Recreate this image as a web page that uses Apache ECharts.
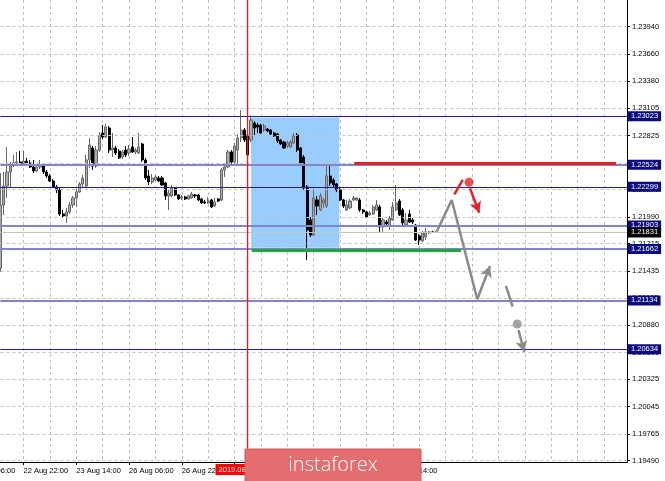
<!DOCTYPE html>
<html><head><meta charset="utf-8">
<script src="https://cdn.jsdelivr.net/npm/echarts@6/dist/echarts.min.js"></script>
<style>html,body{margin:0;padding:0;background:#fff}#c{width:665px;height:481px}</style>
</head><body><div id="c"></div>
<script>
// ---------- DATA ----------
// hourly bars, bar 0 = 22 Aug 2019 06:00 (weekend hours skipped)
const barCount = 200;
const firstVisibleBar = 9;
// [open, close, low, high], one per bar from firstVisibleBar
const candles = [
[1.21466,1.22112,1.21425,1.22440],[1.22112,1.22307,1.22010,1.22451],[1.22307,1.22451,1.22184,1.22707],
[1.22451,1.22522,1.22287,1.22553],[1.22522,1.22543,1.22502,1.22625],[1.22543,1.22553,1.22522,1.22656],
[1.22553,1.22533,1.22512,1.22666],[1.22533,1.22563,1.22512,1.22666],[1.22563,1.22543,1.22522,1.22594],
[1.22543,1.22502,1.22492,1.22574],[1.22502,1.22461,1.22440,1.22574],[1.22461,1.22502,1.22451,1.22522],
[1.22502,1.22522,1.22481,1.22574],[1.22522,1.22451,1.22430,1.22533],[1.22451,1.22410,1.22389,1.22471],
[1.22410,1.22358,1.22348,1.22430],[1.22358,1.22297,1.22287,1.22379],[1.22297,1.22266,1.22235,1.22317],
[1.22266,1.22020,1.22000,1.22297],[1.22020,1.22000,1.21979,1.22061],[1.22000,1.22041,1.21928,1.22082],
[1.22041,1.22112,1.22020,1.22143],[1.22112,1.22184,1.22082,1.22205],[1.22184,1.22246,1.22092,1.22276],
[1.22246,1.22328,1.22235,1.22348],[1.22328,1.22389,1.22287,1.22420],[1.22307,1.22574,1.22287,1.22625],
[1.22574,1.22727,1.22492,1.22799],[1.22697,1.22512,1.22471,1.22717],[1.22512,1.22676,1.22492,1.22717],
[1.22676,1.22830,1.22656,1.22861],[1.22850,1.22809,1.22789,1.22932],[1.22809,1.22912,1.22799,1.22943],
[1.22902,1.22676,1.22645,1.22922],[1.22676,1.22697,1.22604,1.22850],[1.22697,1.22645,1.22625,1.22717],
[1.22666,1.22594,1.22584,1.22686],[1.22604,1.22656,1.22584,1.22676],[1.22676,1.22625,1.22604,1.22717],
[1.22645,1.22686,1.22615,1.22727],[1.22707,1.22656,1.22645,1.22809],[1.22656,1.22676,1.22635,1.22697],
[1.22645,1.22707,1.22635,1.22850],[1.22738,1.22574,1.22553,1.22748],[1.22574,1.22389,1.22369,1.22594],
[1.22410,1.22348,1.22317,1.22471],[1.22348,1.22389,1.22328,1.22430],[1.22369,1.22399,1.22358,1.22420],
[1.22389,1.22358,1.22348,1.22410],[1.22389,1.22317,1.22307,1.22410],[1.22338,1.22205,1.22164,1.22348],
[1.22205,1.22235,1.22061,1.22266],[1.22205,1.22287,1.22194,1.22317],[1.22287,1.22215,1.22205,1.22297],
[1.22215,1.22174,1.22164,1.22225],[1.22184,1.22194,1.22164,1.22215],[1.22194,1.22174,1.22164,1.22205],
[1.22174,1.22205,1.22164,1.22215],[1.22184,1.22225,1.22174,1.22246],[1.22215,1.22205,1.22184,1.22225],
[1.22215,1.22164,1.22153,1.22225],[1.22174,1.22133,1.22123,1.22184],[1.22143,1.22133,1.22123,1.22164],
[1.22133,1.22153,1.22123,1.22194],[1.22164,1.22092,1.22082,1.22174],[1.22102,1.22143,1.22092,1.22184],
[1.22174,1.22153,1.22143,1.22184],[1.22164,1.22471,1.22153,1.22492],[1.22471,1.22502,1.22399,1.22533],
[1.22502,1.22656,1.22492,1.22676],[1.22656,1.22553,1.22522,1.22676],[1.22553,1.22717,1.22522,1.22748],
[1.22676,1.22799,1.22522,1.22840],[1.22799,1.22881,1.22758,1.23086],[1.22881,1.22779,1.22758,1.22902],
[1.22830,1.22625,1.22502,1.22881],[1.22779,1.22984,1.22758,1.23035],[1.22953,1.22902,1.22830,1.22973],
[1.22932,1.22912,1.22850,1.22953],[1.22932,1.22850,1.22840,1.22943],[1.22881,1.22922,1.22861,1.22943],
[1.22891,1.22871,1.22861,1.22902],[1.22881,1.22840,1.22830,1.22891],[1.22850,1.22820,1.22809,1.22861],
[1.22840,1.22768,1.22748,1.22850],[1.22779,1.22738,1.22727,1.22789],[1.22758,1.22697,1.22686,1.22768],
[1.22717,1.22748,1.22697,1.22768],[1.22707,1.22758,1.22697,1.22779],[1.22748,1.22820,1.22738,1.22850],
[1.22830,1.22676,1.22656,1.22850],[1.22697,1.22543,1.22533,1.22707],[1.22604,1.22287,1.22266,1.22625],
[1.22297,1.21856,1.21548,1.22317],[1.21959,1.21805,1.21784,1.21989],[1.21805,1.22184,1.21795,1.22297],
[1.22164,1.22102,1.22010,1.22205],[1.22061,1.22205,1.22051,1.22235],[1.22133,1.22164,1.22082,1.22184],
[1.22102,1.22410,1.22082,1.22522],[1.22410,1.22338,1.22307,1.22522],[1.22369,1.22317,1.22297,1.22389],
[1.22328,1.22266,1.22246,1.22338],[1.22266,1.22164,1.22153,1.22287],[1.22164,1.22102,1.22082,1.22174],
[1.22061,1.22112,1.22051,1.22164],[1.22082,1.22153,1.22071,1.22174],[1.22164,1.22184,1.22153,1.22205],
[1.22164,1.22184,1.22153,1.22194],[1.22164,1.22061,1.22041,1.22184],[1.22061,1.22041,1.22020,1.22071],
[1.22041,1.21989,1.21979,1.22051],[1.22010,1.22030,1.22000,1.22051],[1.22020,1.22092,1.22010,1.22112],
[1.22061,1.22112,1.22051,1.22164],[1.22092,1.21887,1.21836,1.22112],[1.21887,1.21959,1.21825,1.21979],
[1.21938,1.21918,1.21897,1.21959],[1.21897,1.21979,1.21856,1.22000],[1.21959,1.22092,1.21948,1.22143],
[1.22061,1.22133,1.22051,1.22317],[1.22153,1.22010,1.22000,1.22174],[1.22061,1.21928,1.21907,1.22082],
[1.21907,1.21959,1.21887,1.22030],[1.22020,1.21938,1.21928,1.22061],[1.21959,1.21938,1.21918,1.21979],
[1.21907,1.21753,1.21743,1.21918],[1.21795,1.21753,1.21702,1.21815],[1.21743,1.21825,1.21733,1.21846],
[1.21784,1.21836,1.21753,1.21877],[1.21825,1.21836,1.21815,1.21846],[1.21836,1.21831,1.21825,1.21846],
[1.21831,1.21831,1.21825,1.21846]
];
const yTicks = [1.23940,1.23660,1.23380,1.23105,1.22825,1.22545,1.22270,1.21990,1.21715,1.21435,1.21155,1.20880,1.20600,1.20325,1.20045,1.19765,1.19490];
const xTickLabels = ['22 Aug 06:00','22 Aug 22:00','23 Aug 14:00','26 Aug 06:00','26 Aug 22:00','27 Aug 14:00','28 Aug 06:00','28 Aug 22:00','29 Aug 14:00'];
const darkLevels = [1.23023, 1.22299, 1.20634];
const lightLevels = [1.22524, 1.21903, 1.21662, 1.21134];
const bidPrice = 1.21831;
const vLineBar = 84;
const vLineLabel = '2019.08.27 18:00';
const zoneRect = [[85, 1.23010], [111.8, 1.21674]];
const redSegment = [[116.3, 1.22537], [195.7, 1.22537]];
const greenSegment = [[85.2, 1.21651], [148.7, 1.21651]];
const projPath = [[141.3, 1.21839], [145.85, 1.22164], [153.6, 1.21146], [157.45, 1.21487]];
const redHook = [[146.64, 1.22222], [149.2, 1.22369]];
const redDot = [151.1, 1.22345];
const redArrow = [[151.4, 1.22283], [154.2, 1.22033]];
const greyDash = [[162.3, 1.21282], [164.3, 1.21070]];
const greyDot = [165.7, 1.20892];
const greyArrow = [[166.1, 1.20831], [167.8, 1.20608]];
const yMin = 1.19477, yMax = 1.24214;

// ---------- BUILD ----------
const MON = ['Jan','Feb','Mar','Apr','May','Jun','Jul','Aug','Sep','Oct','Nov','Dec'];
const allBars = [];
let t = Date.UTC(2019, 7, 22, 6);
while (allBars.length < barCount) {
  const d = new Date(t);
  const wd = d.getUTCDay();
  if (wd !== 0 && wd !== 6) {
    allBars.push(String(d.getUTCDate()).padStart(2,'0') + ' ' + MON[d.getUTCMonth()] + ' ' + String(d.getUTCHours()).padStart(2,'0') + ':00');
  }
  t += 3600000;
}
const categories = allBars.slice(firstVisibleBar);
const candleData = categories.map((c, i) => i < candles.length ? candles[i] : '-');
const labelSet = new Set(xTickLabels);
const FONT = '"Liberation Sans", Arial, sans-serif';
const NAVY = '#0a0a80';
const GRID = '#c2c2c2';
const RED = '#e3212b';
const GREY = '#8a8a8a';

function levelItem(v, color, width, bg) {
  return {
    yAxis: v,
    lineStyle: { color: color, width: width, type: 'solid' },
    label: { show: true, position: 'end', formatter: v.toFixed(5), color: '#fff',
      backgroundColor: bg, padding: [1, 3, 0, 3], fontSize: 7.5, lineHeight: 9,
      fontFamily: FONT, distance: 1 }
  };
}
const levelData = [];
lightLevels.forEach(v => levelData.push(levelItem(v, '#8484c8', 2, NAVY)));
darkLevels.forEach(v => levelData.push(levelItem(v, '#1e1e8c', 1, NAVY)));
levelData.push(levelItem(bidPrice, '#c4c4c4', 1, '#000'));

const gridLineData = yTicks.map(v => ({ yAxis: v }));

const seg = (p, color, width, arrow) => [
  { coord: p[0], symbol: 'none' },
  { coord: p[1], symbol: arrow ? 'arrow' : 'none', symbolSize: arrow ? [9, 11] : 0,
    lineStyle: { color: color, width: width, type: 'solid' } }
];

const chart = echarts.init(document.getElementById('c'), null, { renderer: 'canvas' });
chart.setOption({
  animation: false,
  backgroundColor: '#ffffff',
  grid: { left: 0.4, right: 38, top: 0, bottom: 19 },
  xAxis: [{
    type: 'category', data: categories, boundaryGap: false,
    axisLine: { show: true, lineStyle: { color: '#000', width: 1 } },
    axisTick: { show: true, length: 3, interval: (i, v) => labelSet.has(v), lineStyle: { color: '#000' } },
    axisLabel: { interval: (i, v) => labelSet.has(v), align: 'left', color: '#000', fontSize: 7.5,
      fontFamily: FONT, margin: 5 },
    splitLine: { show: true, interval: (i) => (i + firstVisibleBar) % 8 === 0,
      lineStyle: { color: GRID, type: [3, 3], width: 1 } }
  }, {
    type: 'value', min: firstVisibleBar, max: barCount - 1, show: false
  }],
  yAxis: {
    type: 'value', position: 'right', min: yMin, max: yMax, scale: true,
    axisLine: { show: true, lineStyle: { color: '#000', width: 1 } },
    axisTick: { show: true, length: 3, customValues: yTicks, lineStyle: { color: '#000' } },
    axisLabel: { customValues: yTicks, formatter: v => v.toFixed(5), color: '#000', fontSize: 7.5,
      fontFamily: FONT, margin: 5 },
    splitLine: { show: false }
  },
  series: [
    {
      type: 'line', xAxisIndex: 1, data: [], z: 0, silent: true,
      markLine: { silent: true, symbol: 'none', precision: 5, label: { show: false },
        lineStyle: { color: GRID, type: [3, 3], width: 1 }, data: gridLineData }
    },
    {
      type: 'line', xAxisIndex: 1, data: [], z: 1, silent: true,
      markArea: { silent: true, itemStyle: { color: '#99ccff', opacity: 1 },
        data: [[{ coord: zoneRect[0] }, { coord: zoneRect[1] }]] }
    },
    {
      type: 'candlestick', data: candleData, z: 3, barWidth: 2.6,
      itemStyle: { color: '#acacac', color0: '#000000', borderColor: '#666666', borderColor0: '#000000', borderWidth: 1 }
    },
    {
      type: 'line', xAxisIndex: 1, data: [], z: 4, silent: true,
      markLine: { silent: true, symbol: 'none', precision: 5, data: levelData }
    },
    {
      // vertical marker line at the selected bar
      type: 'line', xAxisIndex: 1, z: 5, symbol: 'none', silent: true,
      data: [[vLineBar, yMin], [vLineBar, yMax]],
      lineStyle: { color: '#ff1010', width: 1 },
      markLine: { silent: true, symbol: 'none', precision: 5, data: [
        { xAxis: vLineBar, lineStyle: { color: '#ff1010', width: 1, type: 'solid' },
          label: { show: true, position: 'start', formatter: vLineLabel, color: '#fff', backgroundColor: '#ff0000',
            padding: [2, 3, 1, 3], fontSize: 7.5, fontFamily: FONT, distance: 2 } },
        seg(redSegment, RED, 3, false),
        seg(greenSegment, '#22a63c', 3, false)
      ] }
    },
    {
      type: 'line', xAxisIndex: 1, data: projPath.slice(0, 3), z: 6, symbol: 'none', silent: true,
      lineStyle: { color: GREY, width: 2.5 },
      markLine: { silent: true, symbol: 'none', precision: 5, label: { show: false }, data: [
        seg(projPath.slice(2, 4), GREY, 2.5, true),
        seg(greyDash, GREY, 2.5, false),
        seg(greyArrow, GREY, 2.5, true),
        seg(redHook, RED, 2.5, false),
        seg(redArrow, RED, 2.5, true)
      ] }
    },
    {
      type: 'scatter', xAxisIndex: 1, z: 7, symbolSize: 9, silent: true,
      data: [
        { value: redDot, itemStyle: { color: RED } },
        { value: greyDot, itemStyle: { color: GREY } }
      ]
    }
  ]
});

// partially visible first time label (its bar lies left of the visible area)
const firstLabelX = chart.convertToPixel({ xAxisIndex: 1 }, 0);
const axisY = chart.convertToPixel({ yAxisIndex: 0 }, yMin);
chart.setOption({
  graphic: [
    { type: 'text', z: 50, x: firstLabelX, y: axisY + 5,
      style: { text: xTickLabels[0], fill: '#000', font: '7.5px ' + FONT, textAlign: 'left', textVerticalAlign: 'top' } },
    { type: 'rect', z: 100, shape: { x: 245, y: 449, width: 176, height: 34 },
      style: { fill: '#e46e6f', stroke: '#cf5a5b', lineWidth: 1 } },
    { type: 'text', z: 101, x: 333, y: 465,
      style: { text: 'instaforex', fill: '#ffffff', font: '300 20px "Open Sans", sans-serif',
        textAlign: 'center', textVerticalAlign: 'middle' } }
  ]
});
</script>
</body></html>
